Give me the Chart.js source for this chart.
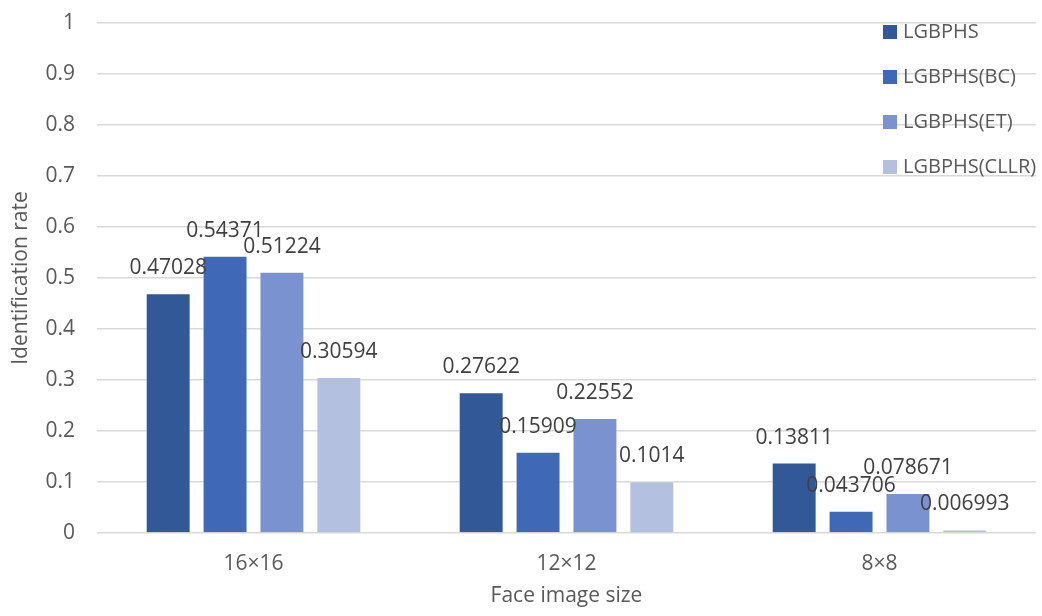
<!DOCTYPE html>
<html>
<head>
<meta charset="utf-8">
<script src="https://cdn.jsdelivr.net/npm/chart.js@4/dist/chart.umd.min.js"></script>
<style>
  html, body { margin: 0; padding: 0; background: #fff; }
  #wrap { width: 1042px; height: 616px; position: relative; }
</style>
</head>
<body>
<div id="wrap"><canvas id="chart"></canvas></div>
<script>
// Identification rate per face image size for the four LGBPHS variants
const sizes = ['16×16', '12×12', '8×8'];
const seriesNames = ['LGBPHS', 'LGBPHS(BC)', 'LGBPHS(ET)', 'LGBPHS(CLLR)'];
const lgbphs     = [0.47028, 0.27622, 0.13811];
const lgbphsBC   = [0.54371, 0.15909, 0.043706];
const lgbphsET   = [0.51224, 0.22552, 0.078671];
const lgbphsCLLR = [0.30594, 0.1014, 0.006993];
const yTicks = [0, 0.1, 0.2, 0.3, 0.4, 0.5, 0.6, 0.7, 0.8, 0.9, 1];

const COLORS = ['#325897', '#3F69B7', '#7A92D0', '#B3C0E0'];
const FONT = '"Open Sans", "Noto Sans", sans-serif';
const TEXT = '#595959';

// value labels above each bar
const barLabels = {
  id: 'barLabels',
  afterDatasetsDraw(chart) {
    const ctx = chart.ctx;
    ctx.save();
    ctx.font = `21px ${FONT}`;
    ctx.fillStyle = '#404040';
    ctx.textAlign = 'center';
    ctx.textBaseline = 'middle';
    chart.data.datasets.forEach((ds, i) => {
      chart.getDatasetMeta(i).data.forEach((bar, j) => {
        ctx.fillText(String(ds.data[j]), bar.x, bar.y - 25);
      });
    });
    ctx.restore();
  }
};

// vertical legend drawn inside the top-right of the plot
const insideLegend = {
  id: 'insideLegend',
  afterDraw(chart, args, opts) {
    const ctx = chart.ctx;
    ctx.save();
    ctx.font = `20px ${FONT}`;
    ctx.textBaseline = 'middle';
    ctx.textAlign = 'left';
    chart.data.datasets.forEach((ds, i) => {
      const y = opts.top + i * opts.step;
      ctx.fillStyle = ds.backgroundColor;
      ctx.fillRect(opts.left, y - 7, 14, 14);
      ctx.fillStyle = TEXT;
      ctx.fillText(ds.label, opts.left + 20, y);
    });
    ctx.restore();
  }
};

const allSeries = [lgbphs, lgbphsBC, lgbphsET, lgbphsCLLR];

new Chart(document.getElementById('chart'), {
  type: 'bar',
  data: {
    labels: sizes,
    datasets: seriesNames.map((name, i) => ({
      label: name,
      data: allSeries[i],
      backgroundColor: COLORS[i],
      borderColor: 'rgba(255,255,255,0.55)',
      borderWidth: 1,
      barPercentage: 0.79,
      categoryPercentage: 0.727,
    })),
  },
  options: {
    responsive: true,
    maintainAspectRatio: false,
    animation: false,
    layout: { padding: { top: 23, right: 6, left: 0, bottom: 0 } },
    plugins: {
      legend: { display: false },
      tooltip: { enabled: false },
      insideLegend: { left: 883, top: 32, step: 45 },
    },
    scales: {
      x: {
        grid: { display: false, drawTicks: false },
        border: { display: false },
        ticks: { color: TEXT, font: { family: FONT, size: 21 }, padding: 18 },
        title: {
          display: true, text: 'Face image size', color: TEXT,
          font: { family: FONT, size: 21 }, padding: { top: 0, bottom: 7 },
        },
        afterFit: s => { s.height = 83; s.paddingLeft = 0; s.paddingRight = 0; },
      },
      y: {
        min: 0, max: 1,
        afterBuildTicks: s => { s.ticks = yTicks.map(v => ({ value: v })); },
        grid: { color: '#D9D9D9', lineWidth: 1.5, drawTicks: false },
        border: { display: false },
        ticks: {
          color: TEXT, font: { family: FONT, size: 21 }, padding: 22,
          callback: v => String(v),
        },
        title: {
          display: true, text: 'Identification rate', color: TEXT,
          font: { family: FONT, size: 21 }, padding: { top: 8, bottom: 0 },
        },
        afterFit: s => { s.width = 97; s.paddingTop = 0; s.paddingBottom = 0; },
      },
    },
  },
  plugins: [barLabels, insideLegend],
});
</script>
</body>
</html>
